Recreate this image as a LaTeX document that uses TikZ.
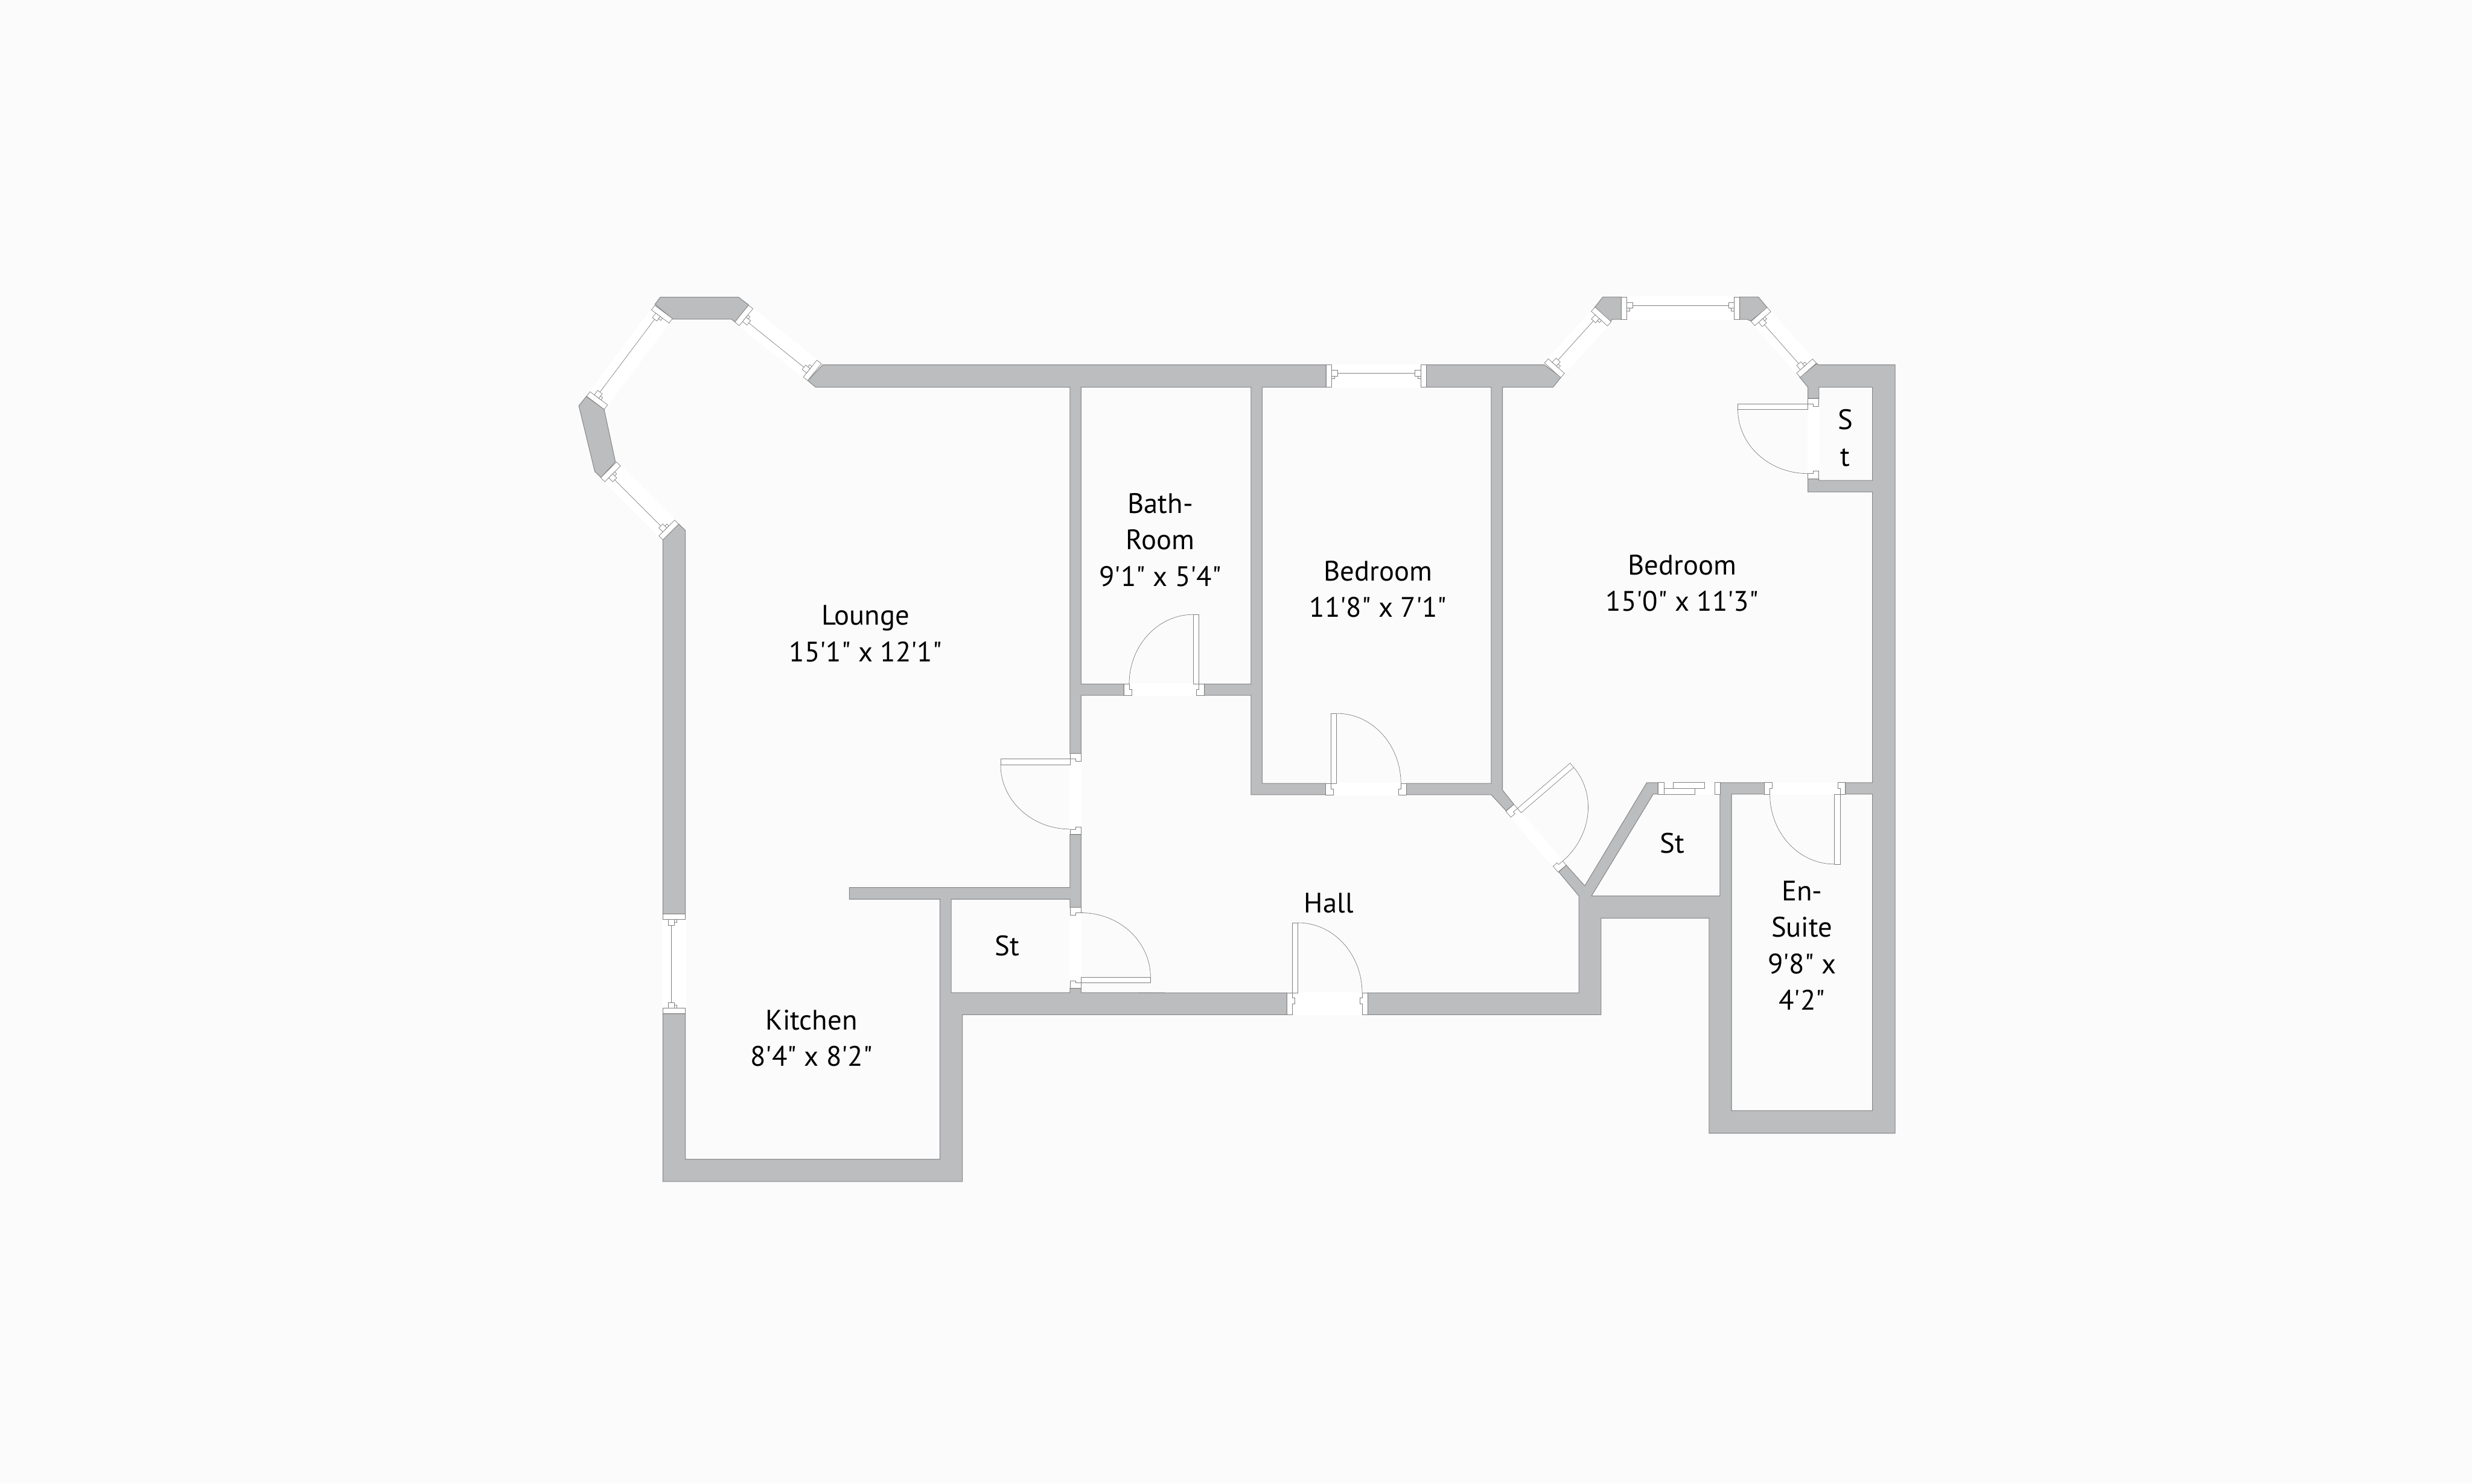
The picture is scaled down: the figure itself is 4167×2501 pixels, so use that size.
\documentclass[tikz,border=0pt]{standalone}
\usepackage{fontspec}
\newfontfamily\roomfont{PT Sans}
\definecolor{wallgrey}{HTML}{BCBDBF}
\definecolor{walledge}{HTML}{87888A}
\definecolor{paper}{HTML}{FBFBFC}
\tikzset{
  wall/.style={fill=wallgrey, draw=walledge, line width=0.3pt, line join=miter},
  joinery/.style={fill=white, draw=black!50, line width=0.2pt},
  swing/.style={draw=black!50, line width=0.2pt},
  opening/.style={fill=white, draw=none},
  room/.style={align=center, inner sep=0pt, text=black}
}
\begin{document}
\begin{tikzpicture}[x=0.01cm, y=-0.01cm, font=\roomfont\fontsize{13.5}{17.5}\selectfont]
    \fill[paper] (0,0) rectangle (4167,2501);
    \useasboundingbox (0,0) rectangle (4167,2501);

    % walls, in one piece where they meet
    \draw[wall] (1386.7,615) -- (2235.3,615) -- (2235.3,652.7) -- (2127.6,652.7) -- (2127.6,1320.6)
      -- (2234.7,1320.6) -- (2234.7,1339.7) -- (2108.7,1339.7) -- (2108.7,1172.2) -- (2030.1,1172.2)
      -- (2030.1,1153.1) -- (2108.7,1153.1) -- (2108.7,652.7) -- (1822.4,652.7) -- (1822.4,1153.1)
      -- (1894.4,1153.1) -- (1894.4,1172.2) -- (1822.4,1172.2) -- (1822.4,1270.3) -- (1803.6,1270.3)
      -- (1803.6,652.7) -- (1375,652.7) -- (1361.7,641.7) -- cycle;
    \draw[wall] (1117.5,1708.9) -- (1155.4,1708.9) -- (1155.4,1954.3) -- (1584.4,1954.3) -- (1584.4,1515.8)
      -- (1431.7,1515.8) -- (1431.7,1496.2) -- (1803.6,1496.2) -- (1803.6,1406.7) -- (1822.4,1406.7)
      -- (1822.4,1529.7) -- (1803.6,1529.7) -- (1803.6,1515.8) -- (1603.5,1515.8) -- (1603.5,1673.4)
      -- (1803.6,1673.4) -- (1803.6,1666) -- (1822.4,1666) -- (1822.4,1673.4) -- (2169.4,1673.7)
      -- (2169.4,1710.6) -- (1622.3,1710.6) -- (1622.3,1991.8) -- (1117.5,1991.8) -- cycle;
    \draw[wall] (2370.4,1320.6) -- (2513.7,1320.6) -- (2513.7,652.7) -- (2404.3,652.7) -- (2404.3,615)
      -- (2602.9,615) -- (2631.5,635.7) -- (2618,652.7) -- (2532.6,652.7) -- (2532.6,1331.7)
      -- (2552,1356) -- (2538.6,1366.7) -- (2513.7,1339.7) -- (2370.4,1339.7) -- cycle;
    \draw[wall] (2640,1458.3) -- (2671.4,1493.3) -- (2775.9,1319.3) -- (2794.8,1319.3) -- (2794.8,1338.7)
      -- (2786.8,1338.7) -- (2682.8,1510.3) -- (2899.3,1510.3) -- (2899.3,1319.3) -- (2974.4,1319.3)
      -- (2974.4,1338.7) -- (2918.7,1338.7) -- (2918.7,1872.3) -- (3156.3,1872.3) -- (3156.3,1338.7)
      -- (3110.7,1338.7) -- (3110.7,1319.3) -- (3156.3,1319.3) -- (3156.3,829.3) -- (3047.4,829.3)
      -- (3047.4,807.3) -- (3066,807.3) -- (3066,810) -- (3156.3,810) -- (3156.3,652.7) -- (3066,652.7)
      -- (3066,671.7) -- (3047.4,671.7) -- (3047.4,652.7) -- (3033.5,635.7) -- (3063,612.7) -- (3064.5,615)
      -- (3194.6,615) -- (3194.6,1910.3) -- (2881,1910.3) -- (2881,1547.7) -- (2698.8,1547.7)
      -- (2698.8,1710.6) -- (2305.1,1710.6) -- (2305.1,1673.7) -- (2661.4,1673.7) -- (2661.4,1510.3)
      -- (2627.6,1470) -- cycle;
    \draw[wall] (1117.5,1540.7) -- (1117.5,910) -- (1144,883.3) -- (1155.2,894) -- (1155.2,1540.7) -- cycle;
    % bay piers
    \draw[wall] (1113,501) -- (1245,501) -- (1262,514) -- (1239,543) -- (1233,538) -- (1134,538) -- (1104,513) -- cycle;
    \draw[wall] (988.3,668.3) -- (1018.3,690) -- (1037.3,778.3) -- (1013.3,805) -- (1002.7,795) -- (975.7,684) -- cycle;
    \draw[wall] (2701.8,500.7) -- (2733,500.7) -- (2733,538.3) -- (2718.3,538.3) -- (2713.9,541.7) -- (2687.9,518.3) -- cycle;
    \draw[wall] (2932.5,500.7) -- (2964.1,500.7) -- (2979.3,519) -- (2951.1,541) -- (2944.6,538.3) -- (2932.5,538.3) -- cycle;

    % windows: start, angle, length, half width, side of the glass
    \foreach \wx/\wy/\ang/\span/\half/\sd in {
        1136.5/1708.9/90/168.2/19/-1,
        1130.7/896.7/135/148/18.8/-1,
        1003.7/679/53.1/191.4/18.5/-1,
        1250.3/528.7/-38.8/157.4/18.3/1,
        2235.3/633.9/0/169/18.9/-1,
        2617.2/624.2/47.9/126.9/18.4/-1,
        2733/519.5/0/199.5/18.8/-1,
        2965.2/530/-48.6/125.5/18/1} {
      \begin{scope}[shift={(\wx,\wy)}, rotate=\ang, yscale=\sd]
        \fill[opening] (9.5,-\half-1) rectangle (\span-9.5,\half+1);
        \draw[joinery] (0,-\half) rectangle (9.5,\half);
        \draw[joinery] (\span-9.5,-\half) rectangle (\span,\half);
        \draw[joinery] (9.5,0) rectangle (19,9.5);
        \draw[joinery] (9.5,-4.7) rectangle (14.2,0);
        \draw[joinery] (\span-9.5,0) rectangle (\span-19,9.5);
        \draw[joinery] (\span-9.5,-4.7) rectangle (\span-14.2,0);
        \draw[swing] (19,4.8) -- (\span-19,4.8);
      \end{scope}
    }

    % doors: hinge end on the swing face, angle, opening, wall, leaf, side, stop
    \foreach \hx/\hy/\ang/\open/\thick/\leaf/\sd/\stopa/\stopb in {
        2030.1/1153.1/180/135.7/19.1/117.2/1/9.5/19.1,
        2234.7/1320.6/0/135.7/19.1/118/-1/9.5/19.1,
        1803.6/1270.3/-90/136.4/18.8/117/1/9.5/18.8,
        1822.4/1666/90/136.3/18.8/117/1/9.5/18.8,
        2169.4/1673.7/0/135.7/36.9/118.2/-1/8/18,
        2552/1356/-49.3/135/18/117/-1/9/18,
        3110.7/1338.7/180/136.3/19.4/118/-1/9.7/19.4,
        3047.4/671.7/-90/135.6/18.6/118/1/9.3/18.6} {
      \begin{scope}[shift={(\hx,\hy)}, rotate=\ang, yscale=\sd]
        \fill[opening] (9,-\thick-1) rectangle (\open-9,1);
        \draw[joinery] (0,0) -- (9,0) -- (9,-\stopa) -- (13,-\stopa) -- (13,-\stopb) -- (9,-\stopb)
          -- (9,-\thick) -- (0,-\thick) -- cycle;
        \draw[joinery] (\open,0) -- (\open-9,0) -- (\open-9,-\stopa) -- (\open-13,-\stopa) -- (\open-13,-\stopb)
          -- (\open-9,-\stopb) -- (\open-9,-\thick) -- (\open,-\thick) -- cycle;
        \draw[joinery] (9,0) rectangle (18.5,\leaf);
        \draw[swing] (18.5,\leaf) .. controls ({18.5+0.5523*(\open-27.5)},\leaf) and ({\open-9},0.5523*\leaf) .. ({\open-9},0);
      \end{scope}
    }

    % sliding doors of the store
    \fill[opening] (2804.7,1318) rectangle (2890.3,1340);
    \draw[joinery] (2794.8,1319.3) rectangle (2804.7,1338.7);
    \draw[joinery] (2890.3,1319.3) rectangle (2899.3,1338.7);
    \draw[joinery] (2820.6,1319.3) rectangle (2873.4,1329.3);
    \draw[joinery] (2804.7,1329.3) rectangle (2857,1338.7);

    % room labels
    \node[room] (lounge) at (1459,1068) {Lounge\\15'1" x 12'1"};
    \node[room] (bathroom) at (1956,910) {Bath-\\Room\\9'1" x 5'4"};
    \node[room] (bedroomone) at (2323,993) {Bedroom\\11'8" x 7'1"};
    \node[room] (bedroomtwo) at (2835.5,983) {Bedroom\\15'0" x 11'3"};
    \node[room] (hall) at (2240,1522) {Hall};
    \node[room] (storehall) at (1698,1594) {St};
    \node[room] (storebed) at (2819,1421) {St};
    \node[room] (storetop) at (3110.5,738) {S\\t};
    \node[room] (ensuite) at (3037.5,1594) {En-\\Suite\\9'8" x\\4'2"};
    \node[room] (kitchen) at (1368,1750) {Kitchen\\8'4" x 8'2"};
  \end{tikzpicture}
\end{document}
